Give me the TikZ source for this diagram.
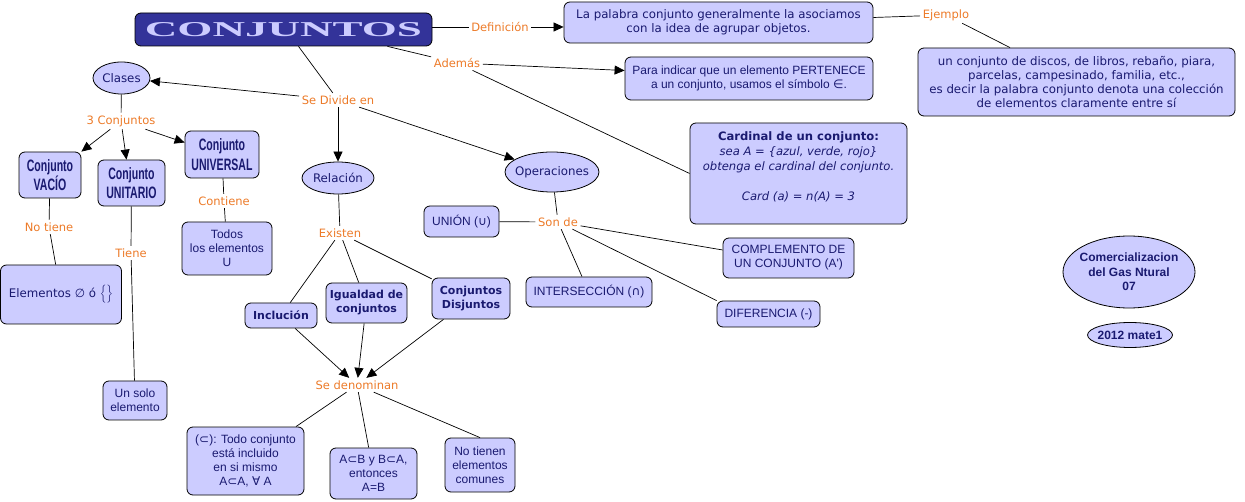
\documentclass[tikz,border=0pt]{standalone}
\usepackage{fontspec}
\usepackage{graphicx}
\setmainfont{DejaVu Sans}
\newfontfamily\arial{Liberation Sans}
\newfontfamily\djv{DejaVu Sans}
\newfontfamily\tserif{Liberation Serif}
\usetikzlibrary{arrows.meta,shapes.geometric}
\definecolor{lav}{HTML}{CCCCFF}
\definecolor{navy}{HTML}{1A1A70}
\definecolor{orng}{HTML}{EC7A28}
\definecolor{titlebg}{HTML}{333399}
\newcommand\cnd[1]{\scalebox{0.64}[1]{\arial\bfseries #1}}
\begin{document}
\begin{tikzpicture}[x=1pt,y=-1pt,
  box/.style={draw=black, fill=lav, rounded corners=6pt, line width=0.8pt, text=navy, align=center, inner sep=0pt},
  elli/.style={draw=black, fill=lav, ellipse, line width=0.8pt, inner sep=0pt},
  etxt/.style={text=navy, align=center, inner sep=0pt},
  lbl/.style={text=orng, font=\fontsize{11.5}{13}\selectfont, inner sep=2.5pt},
  vtxt/.style={font=\fontsize{11.8}{14}\selectfont},
  btxt/.style={font=\bfseries\fontsize{11}{14}\selectfont},
  atxt/.style={font=\arial\fontsize{12}{14}\selectfont},
  abtxt/.style={font=\arial\bfseries\fontsize{12}{14.5}\selectfont},
  ctxt/.style={font=\fontsize{16.5}{19.5}\selectfont},
  ln/.style={line width=0.7pt},
  arr/.style={ln, -{Triangle[length=10pt,width=9pt]}}]
\useasboundingbox (0,0) rectangle (1245,502);
% title
\node[fill=titlebg, draw=black, line width=0.8pt, rounded corners=6pt, minimum width=297pt, minimum height=33pt, inner sep=0pt] (title) at (283.5,29.5) {\color{lav}\resizebox{277pt}{14pt}{\tserif\bfseries CONJUNTOS}};
% boxes
\node[box, vtxt, minimum width=309pt, minimum height=41pt] (def) at (718.5,22.5) {La palabra conjunto generalmente la asociamos\\con la idea de agrupar objetos.};
\node[box, vtxt, minimum width=317pt, minimum height=68pt] (ex) at (1076.5,82) {un conjunto de discos, de libros, rebaño, piara,\\parcelas, campesinado, familia, etc.,\\es decir la palabra conjunto denota una colección\\de elementos claramente entre sí};
\node[box, atxt, minimum width=248pt, minimum height=43pt] (para) at (749,78.5) {Para indicar que un elemento PERTENECE\\a un conjunto, usamos el símbolo {\djv ∈}.};
\node[box, font=\fontsize{11.6}{15}\selectfont, minimum width=217pt, minimum height=101pt] (card) at (798.5,173.5) {\textbf{Cardinal de un conjunto:}\\\textit{sea A = \{azul, verde, rojo\}}\\\textit{obtenga el cardinal del conjunto.}\\\mbox{}\\\textit{Card (a) = n(A) = 3}\\\mbox{}};
\node[box, ctxt, minimum width=62pt, minimum height=46pt] (vacio) at (50,175) {\cnd{Conjunto}\\\cnd{VACÍO}};
\node[box, ctxt, minimum width=67pt, minimum height=46pt] (unit) at (131.5,183) {\cnd{Conjunto}\\\cnd{UNITARIO}};
\node[box, ctxt, minimum width=74pt, minimum height=47pt] (univ) at (222,154.5) {\cnd{Conjunto}\\\cnd{UNIVERSAL}};
\node[box, atxt, minimum width=90pt, minimum height=53pt] (todos) at (227,248.5) {Todos\\los elementos\\U};
\node[box, vtxt, minimum width=121pt, minimum height=59pt] (elem) at (61,294.5) {Elementos {\djv ∅} ó $\Big\{\Big\}$};
\node[box, atxt, minimum width=64pt, minimum height=39pt] (unsolo) at (135,400.5) {Un solo\\elemento};
\node[box, btxt, minimum width=72pt, minimum height=25pt] (incl) at (281,315.5) {Inclución};
\node[box, btxt, minimum width=81pt, minimum height=40pt] (igual) at (366.5,303) {Igualdad de\\conjuntos};
\node[box, btxt, minimum width=78pt, minimum height=41pt] (disj) at (471,298.5) {Conjuntos\\Disjuntos};
\node[box, atxt, minimum width=117pt, minimum height=68pt] (subs) at (245.5,461) {({\djv ⊂}): Todo conjunto\\está incluido\\en si mismo\\A{\djv ⊂}A, {\djv ∀} A};
\node[box, atxt, minimum width=87pt, minimum height=51pt] (ab) at (373.5,473.5) {A{\djv ⊂}B y B{\djv ⊂}A,\\entonces\\A=B};
\node[box, atxt, minimum width=70pt, minimum height=54pt] (notien) at (480,465) {No tienen\\elementos\\comunes};
\node[box, atxt, minimum width=75pt, minimum height=31pt] (union) at (461.5,221.5) {UNIÓN ({\djv ∪})};
\node[box, atxt, minimum width=126pt, minimum height=30pt] (inter) at (589,292) {INTERSECCIÓN ({\djv ∩})};
\node[box, atxt, minimum width=131pt, minimum height=40pt] (compl) at (788.5,258) {COMPLEMENTO DE\\UN CONJUNTO (A')};
\node[box, atxt, minimum width=103pt, minimum height=26pt] (dif) at (768.5,314) {DIFERENCIA (-)};
% ellipses
\node[elli, minimum width=57pt, minimum height=32pt, label={[etxt,vtxt]center:Clases}] (clases) at (121.5,78) {};
\node[elli, minimum width=72pt, minimum height=32pt, label={[etxt,vtxt]center:Relación}] (rel) at (338,178) {};
\node[elli, minimum width=94pt, minimum height=40pt, label={[etxt,vtxt]center:Operaciones}] (ops) at (552,172) {};
\node[elli, minimum width=132pt, minimum height=72pt, label={[etxt,abtxt]center:Comercializacion\\del Gas Ntural\\07}] (com) at (1129,272) {};
\node[elli, minimum width=85pt, minimum height=25pt, label={[etxt,abtxt]center:2012 mate1}] (mate) at (1130,335) {};
% labels
\node[lbl] (defl) at (500,27) {Definición};
\node[lbl] (ejl) at (946,15) {Ejemplo};
\node[lbl] (adl) at (457,63) {Además};
\node[lbl] (divl) at (338,100) {Se Divide en};
\node[lbl] (tresl) at (121,121) {3 Conjuntos};
\node[lbl] (contl) at (224,201) {Contiene};
\node[lbl] (notl) at (49,227) {No tiene};
\node[lbl] (tienl) at (131,253) {Tiene};
\node[lbl] (exil) at (340,233) {Existen};
\node[lbl] (denl) at (357,385) {Se denominan};
\node[lbl] (sonl) at (558,222) {Son de};
% connectors
\draw[ln] (title.east |- defl) -- (defl);
\draw[arr] (defl) -- (def.west |- defl);
\draw[ln] ([yshift=5pt]def.east) -- (ejl);
\draw[ln] (ejl) -- ([xshift=-66.5pt]ex.north);
\draw[ln] ([xshift=104pt]title.south) -- (adl);
\draw[arr] (adl) -- ([yshift=8pt]para.west);
\draw[ln] (adl) -- (card.west);
\draw[ln] ([xshift=15pt]title.south) -- (divl);
\draw[arr] (divl) -- (clases);
\draw[arr] (divl) -- (rel);
\draw[arr] (divl) -- (ops);
\draw[ln] (clases) -- (tresl);
\draw[arr] (tresl) -- (vacio.north east);
\draw[arr] (tresl) -- ([xshift=-5pt]unit.north);
\draw[arr] (tresl) -- ([yshift=12pt]univ.west);
\draw[ln] (univ) -- (contl);
\draw[ln] (contl) -- (todos);
\draw[ln] (vacio) -- (notl);
\draw[ln] (notl) -- (elem);
\draw[ln] (unit) -- (tienl);
\draw[ln] (tienl) -- (unsolo);
\draw[ln] (rel) -- (exil);
\draw[ln] (exil) -- (incl);
\draw[ln] (exil) -- (igual);
\draw[ln] (exil) -- (disj);
\draw[arr] (incl) -- (denl);
\draw[arr] (igual) -- (denl);
\draw[arr] (disj) -- (denl);
\draw[ln] (denl) -- (subs);
\draw[ln] (denl) -- (ab);
\draw[ln] (denl) -- (notien.north);
\draw[ln] (ops) -- (sonl);
\draw[ln] (sonl) -- (union);
\draw[ln] (sonl) -- ([xshift=-7pt]inter.north);
\draw[ln] (sonl) -- ([yshift=8pt]compl.west);
\draw[ln] (sonl) -- (dif.north west);
\end{tikzpicture}
\end{document}
